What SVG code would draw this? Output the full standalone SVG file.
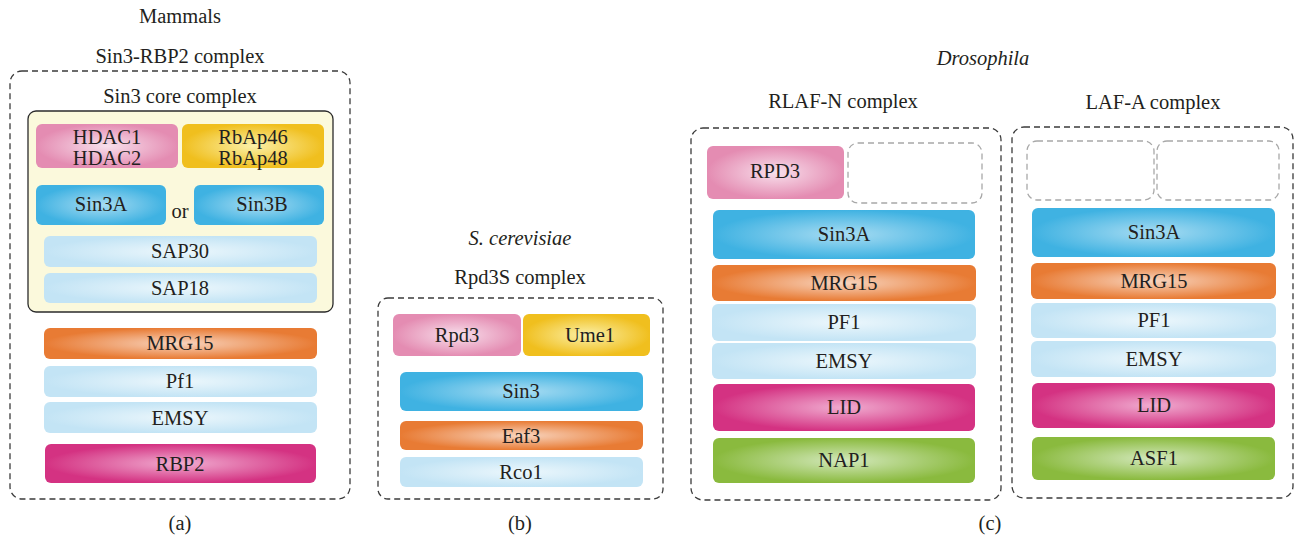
<svg xmlns="http://www.w3.org/2000/svg" width="1296" height="541" viewBox="0 0 1296 541">
<defs>
<radialGradient id="gPink"><stop offset="0" stop-color="#f8e0ec"/><stop offset="1" stop-color="#e48cb2"/></radialGradient>
<radialGradient id="gYel"><stop offset="0" stop-color="#fbf0a8"/><stop offset="1" stop-color="#f0bf1e"/></radialGradient>
<radialGradient id="gBlue"><stop offset="0" stop-color="#a8dcf2"/><stop offset="1" stop-color="#3fb2e2"/></radialGradient>
<radialGradient id="gLb"><stop offset="0" stop-color="#ecf7fc"/><stop offset="1" stop-color="#c3e4f5"/></radialGradient>
<radialGradient id="gOr"><stop offset="0" stop-color="#f8d4be"/><stop offset="1" stop-color="#e87b34"/></radialGradient>
<radialGradient id="gMag"><stop offset="0" stop-color="#f0acd0"/><stop offset="1" stop-color="#d43282"/></radialGradient>
<radialGradient id="gGr"><stop offset="0" stop-color="#d3e8bc"/><stop offset="1" stop-color="#8aba3e"/></radialGradient>
</defs>
<style>
text{font-family:"Liberation Serif","Times New Roman",serif;font-size:20.5px;fill:#231f20;text-anchor:middle}
.it{font-style:italic}
.outer{fill:none;stroke:#3b3b3b;stroke-width:1.3;stroke-dasharray:6 4}
.ghost{fill:#fff;stroke:#a8a8a8;stroke-width:1.3;stroke-dasharray:6 4}
.core{fill:#fbf9dc;stroke:#2b2b2b;stroke-width:1.3}
.pink{fill:url(#gPink)}.yel{fill:url(#gYel)}.blue{fill:url(#gBlue)}.lb{fill:url(#gLb)}.or{fill:url(#gOr)}.mag{fill:url(#gMag)}.gr{fill:url(#gGr)}
</style>

<!-- Panel a -->
<g id="panel-a">
<text x="180" y="23">Mammals</text>
<text x="180" y="63">Sin3-RBP2 complex</text>
<rect class="outer" x="10" y="71" width="340" height="428" rx="12"/>
<text x="180" y="103">Sin3 core complex</text>
<rect class="core" x="28" y="111" width="305" height="201" rx="8"/>
</g>
<g id="a-hdac"><rect class="pink" x="36" y="124" width="142" height="44" rx="6"/><text x="107" y="144">HDAC1</text><text x="107" y="165">HDAC2</text></g>
<g id="a-rbap"><rect class="yel" x="182" y="124" width="142" height="44" rx="6"/><text x="253" y="144">RbAp46</text><text x="253" y="165">RbAp48</text></g>
<g id="a-sin3a"><rect class="blue" x="36" y="185" width="130" height="40" rx="6"/><text x="101" y="211">Sin3A</text></g>
<g id="a-or"><text x="180" y="218">or</text></g>
<g id="a-sin3b"><rect class="blue" x="194" y="185" width="130" height="40" rx="6"/><text x="262" y="211">Sin3B</text></g>
<g id="a-sap30"><rect class="lb" x="44" y="236" width="273" height="31" rx="6"/><text x="180" y="258">SAP30</text></g>
<g id="a-sap18"><rect class="lb" x="44" y="273" width="273" height="30" rx="6"/><text x="180" y="295">SAP18</text></g>
<g id="a-mrg15"><rect class="or" x="44" y="328" width="273" height="31" rx="6"/><text x="180" y="350">MRG15</text></g>
<g id="a-pf1"><rect class="lb" x="44" y="366" width="273" height="31" rx="6"/><text x="180" y="388">Pf1</text></g>
<g id="a-emsy"><rect class="lb" x="44" y="402" width="273" height="31" rx="6"/><text x="180" y="425">EMSY</text></g>
<g id="a-rbp2"><rect class="mag" x="45" y="444" width="271" height="39" rx="6"/><text x="180" y="471">RBP2</text></g>
<text x="180" y="530">(a)</text>

<!-- Panel b -->
<g id="panel-b">
<text class="it" x="520" y="245">S. cerevisiae</text>
<text x="520" y="284">Rpd3S complex</text>
<rect class="outer" x="378" y="298" width="285" height="201" rx="10"/>
</g>
<g id="b-rpd3"><rect class="pink" x="393" y="314" width="128" height="42" rx="6"/><text x="457" y="342">Rpd3</text></g>
<g id="b-ume1"><rect class="yel" x="523" y="314" width="127" height="42" rx="6"/><text x="590" y="342">Ume1</text></g>
<g id="b-sin3"><rect class="blue" x="400" y="372" width="243" height="39" rx="6"/><text x="521" y="398">Sin3</text></g>
<g id="b-eaf3"><rect class="or" x="400" y="421" width="243" height="29" rx="6"/><text x="521" y="443">Eaf3</text></g>
<g id="b-rco1"><rect class="lb" x="400" y="457" width="243" height="30" rx="6"/><text x="521" y="479">Rco1</text></g>
<text x="520" y="530">(b)</text>

<!-- Panel c -->
<g id="panel-c">
<text class="it" x="983" y="65">Drosophila</text>
<text x="843" y="108">RLAF-N complex</text>
<rect class="outer" x="691" y="128" width="310" height="372" rx="12"/>
<text x="1153" y="109">LAF-A complex</text>
<rect class="outer" x="1012" y="127" width="281" height="371" rx="12"/>
</g>
<g id="c1-rpd3"><rect class="pink" x="707" y="146" width="137" height="53" rx="6"/><text x="775" y="178">RPD3</text></g>
<g id="c1-empty"><rect class="ghost" x="848" y="143" width="134" height="60" rx="10"/></g>
<g id="c1-sin3a"><rect class="blue" x="713" y="210" width="262" height="49" rx="6"/><text x="844" y="241">Sin3A</text></g>
<g id="c1-mrg15"><rect class="or" x="712" y="265" width="264" height="36" rx="6"/><text x="844" y="290">MRG15</text></g>
<g id="c1-pf1"><rect class="lb" x="712" y="304" width="264" height="37" rx="6"/><text x="844" y="329">PF1</text></g>
<g id="c1-emsy"><rect class="lb" x="712" y="343" width="264" height="36" rx="6"/><text x="844" y="368">EMSY</text></g>
<g id="c1-lid"><rect class="mag" x="713" y="384" width="262" height="47" rx="6"/><text x="844" y="414">LID</text></g>
<g id="c1-nap1"><rect class="gr" x="713" y="438" width="262" height="45" rx="6"/><text x="844" y="467">NAP1</text></g>

<g id="c2-empty1"><rect class="ghost" x="1027" y="141" width="127" height="59" rx="10"/></g>
<g id="c2-empty2"><rect class="ghost" x="1157" y="141" width="122" height="59" rx="10"/></g>
<g id="c2-sin3a"><rect class="blue" x="1032" y="208" width="243" height="49" rx="6"/><text x="1154" y="239">Sin3A</text></g>
<g id="c2-mrg15"><rect class="or" x="1031" y="263" width="245" height="36" rx="6"/><text x="1154" y="288">MRG15</text></g>
<g id="c2-pf1"><rect class="lb" x="1031" y="303" width="245" height="35" rx="6"/><text x="1154" y="327">PF1</text></g>
<g id="c2-emsy"><rect class="lb" x="1031" y="341" width="245" height="36" rx="6"/><text x="1154" y="366">EMSY</text></g>
<g id="c2-lid"><rect class="mag" x="1032" y="383" width="243" height="45" rx="6"/><text x="1154" y="412">LID</text></g>
<g id="c2-asf1"><rect class="gr" x="1032" y="437" width="243" height="43" rx="6"/><text x="1154" y="465">ASF1</text></g>
<text x="990" y="530">(c)</text>
</svg>
